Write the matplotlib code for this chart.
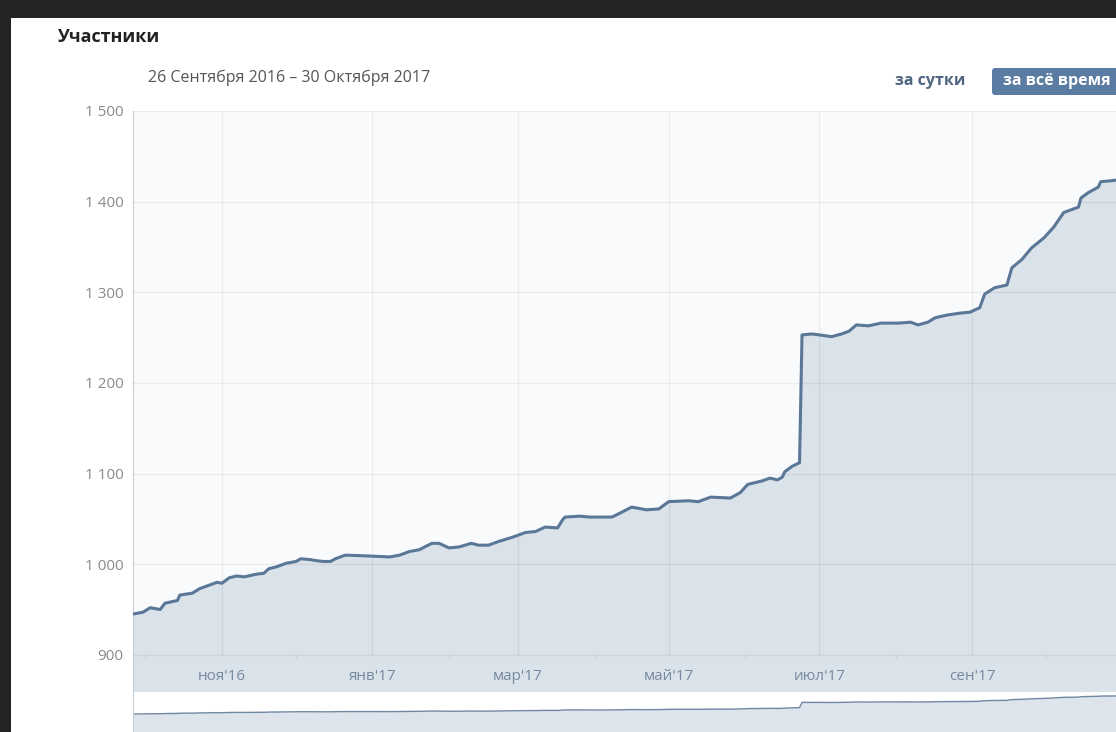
import matplotlib
matplotlib.use("Agg")
import matplotlib.pyplot as plt
import pandas as pd
from matplotlib.patches import Rectangle, FancyBboxPatch
from matplotlib.transforms import IdentityTransform

plt.rcParams['font.family'] = ['Open Sans', 'DejaVu Sans']

# texts
title = "Участники"
period = "26 Сентября 2016 – 30 Октября 2017"
btn_day = "за сутки"
btn_all = "за всё время"

# members count
dates = [
    "2016-09-26", "2016-09-30", "2016-10-03", "2016-10-07", "2016-10-09",
    "2016-10-14", "2016-10-15", "2016-10-20", "2016-10-23", "2016-10-27",
    "2016-10-30", "2016-11-01", "2016-11-04", "2016-11-07", "2016-11-10",
    "2016-11-15", "2016-11-18", "2016-11-20", "2016-11-23", "2016-11-27",
    "2016-12-01", "2016-12-03", "2016-12-07", "2016-12-09", "2016-12-12",
    "2016-12-15", "2016-12-17", "2016-12-21", "2016-12-31", "2017-01-08",
    "2017-01-12", "2017-01-16", "2017-01-20", "2017-01-25", "2017-01-28",
    "2017-02-01", "2017-02-05", "2017-02-10", "2017-02-13", "2017-02-17",
    "2017-02-21", "2017-02-27", "2017-03-04", "2017-03-08", "2017-03-12",
    "2017-03-17", "2017-03-19", "2017-03-20", "2017-03-26", "2017-03-30",
    "2017-04-08", "2017-04-11", "2017-04-16", "2017-04-22", "2017-04-27",
    "2017-05-01", "2017-05-09", "2017-05-13", "2017-05-18", "2017-05-26",
    "2017-05-30", "2017-06-02", "2017-06-08", "2017-06-11", "2017-06-14",
    "2017-06-16", "2017-06-17", "2017-06-20", "2017-06-23", "2017-06-24",
    "2017-06-28", "2017-07-01", "2017-07-06", "2017-07-10", "2017-07-13",
    "2017-07-16", "2017-07-21", "2017-07-26", "2017-08-02", "2017-08-07",
    "2017-08-10", "2017-08-14", "2017-08-17", "2017-08-22", "2017-08-27",
    "2017-08-31", "2017-09-04", "2017-09-06", "2017-09-10", "2017-09-15",
    "2017-09-17", "2017-09-21", "2017-09-25", "2017-09-30", "2017-10-04",
    "2017-10-08", "2017-10-12", "2017-10-14", "2017-10-15", "2017-10-18",
    "2017-10-22", "2017-10-23", "2017-10-27", "2017-10-30",
]
members = [
    945, 947, 952, 950, 957,
    960, 966, 968, 973, 977,
    980, 979, 985, 987, 986,
    989, 990, 995, 997, 1001,
    1003, 1006, 1005, 1004, 1003,
    1003, 1006, 1010, 1009, 1008,
    1010, 1014, 1016, 1023, 1023,
    1018, 1019, 1023, 1021, 1021,
    1025, 1030, 1035, 1036, 1041,
    1040, 1049, 1052, 1053, 1052,
    1052, 1056, 1063, 1060, 1061,
    1069, 1070, 1069, 1074, 1073,
    1079, 1088, 1092, 1095, 1093,
    1096, 1102, 1108, 1112, 1253,
    1254, 1253, 1251, 1254, 1257,
    1264, 1263, 1266, 1266, 1267,
    1264, 1267, 1272, 1275, 1277,
    1278, 1283, 1298, 1305, 1308,
    1327, 1336, 1349, 1360, 1372,
    1388, 1392, 1394, 1404, 1410,
    1416, 1422, 1423, 1424,
]

y_ticks = [900, 1000, 1100, 1200, 1300, 1400, 1500]
y_labels = ["900", "1 000", "1 100", "1 200", "1 300", "1 400", "1 500"]
x_ticks = ["2016-11-01", "2017-01-01", "2017-03-01", "2017-05-01", "2017-07-01", "2017-09-01"]
x_labels = ["ноя'16", "янв'17", "мар'17", "май'17", "июл'17", "сен'17"]
month_marks = ["2016-10-01", "2016-12-01", "2017-02-01", "2017-04-01",
               "2017-06-01", "2017-08-01", "2017-10-01"]

W, H = 1116, 732
fig = plt.figure(figsize=(W / 100, H / 100), dpi=100)
fig.patch.set_facecolor("#242424")
fig.add_artist(Rectangle((11 / W, 0), 1, (H - 18) / H, transform=fig.transFigure,
                         facecolor="white", edgecolor="none", zorder=0))

x = pd.to_datetime(dates)
x0, x1 = pd.Timestamp("2016-09-26"), pd.Timestamp("2017-10-30")

# main chart
ax = fig.add_axes([133 / W, 40 / H, (1118 - 133) / W, 581 / H])
ax.set_facecolor("#f9fafb")
ax.fill_between(x, members, 800, color="#dae2ea", lw=0, zorder=1)
ax.plot(x, members, color="#5a7797", lw=2.2, zorder=3, solid_joinstyle="round")
ax.set_xlim(x0, x1)
ax.set_ylim(859, 1500)
ax.set_yticks(y_ticks, y_labels)
ax.set_xticks(pd.to_datetime(x_ticks), x_labels)
ax.grid(True, axis="y", color="black", alpha=0.055, lw=1)
ax.vlines(pd.to_datetime(x_ticks), 900, 1500, color="black", alpha=0.055, lw=1, zorder=2)
ax.vlines(pd.to_datetime(month_marks), 895, 900, color="black", alpha=0.055, lw=1, zorder=2)
ax.set_axisbelow(False)
ax.tick_params(axis="y", length=0, pad=7, labelcolor="#8a8a8a", labelsize=11)
ax.tick_params(axis="x", length=0, pad=-16.5, labelcolor="#7589a0", labelsize=11)
for s in ["top", "right"]:
    ax.spines[s].set_visible(False)
ax.spines["left"].set_color("#c9d0d7")
ax.spines["bottom"].set_color("#cfd6dd")

# navigator strip
nav = fig.add_axes([133 / W, -17.5 / H, (1118 - 133) / W, 57.5 / H])
nav.set_facecolor("white")
nav.fill_between(x, members, 0, color="#dde4eb", lw=0)
nav.plot(x, members, color="#6f87a2", lw=1)
nav.set_xlim(x0, x1)
nav.set_ylim(0, 1530)
nav.set_xticks([])
nav.set_yticks([])
for s in ["top", "right", "bottom"]:
    nav.spines[s].set_visible(False)
nav.spines["left"].set_color("#c9d0d7")

# header
fig.text(58 / W, 1 - 37 / H, title, fontsize=13, fontweight="bold", color="#222222", va="center")
fig.text(148 / W, 1 - 78 / H, period, fontsize=11.5, color="#555555", va="center")
fig.text(930 / W, 1 - 81 / H, btn_day, fontsize=11.5, fontweight="bold", color="#4f6580",
         ha="center", va="center")
fig.add_artist(FancyBboxPatch((992, H - 95), 140, 27, boxstyle="round,pad=0,rounding_size=3",
                              transform=IdentityTransform(), facecolor="#5b7ca2", edgecolor="none"))
fig.text(1003 / W, 1 - 81 / H, btn_all, fontsize=11.5, fontweight="bold", color="white", va="center")

fig.savefig("out.png", dpi=100, facecolor=fig.get_facecolor())
